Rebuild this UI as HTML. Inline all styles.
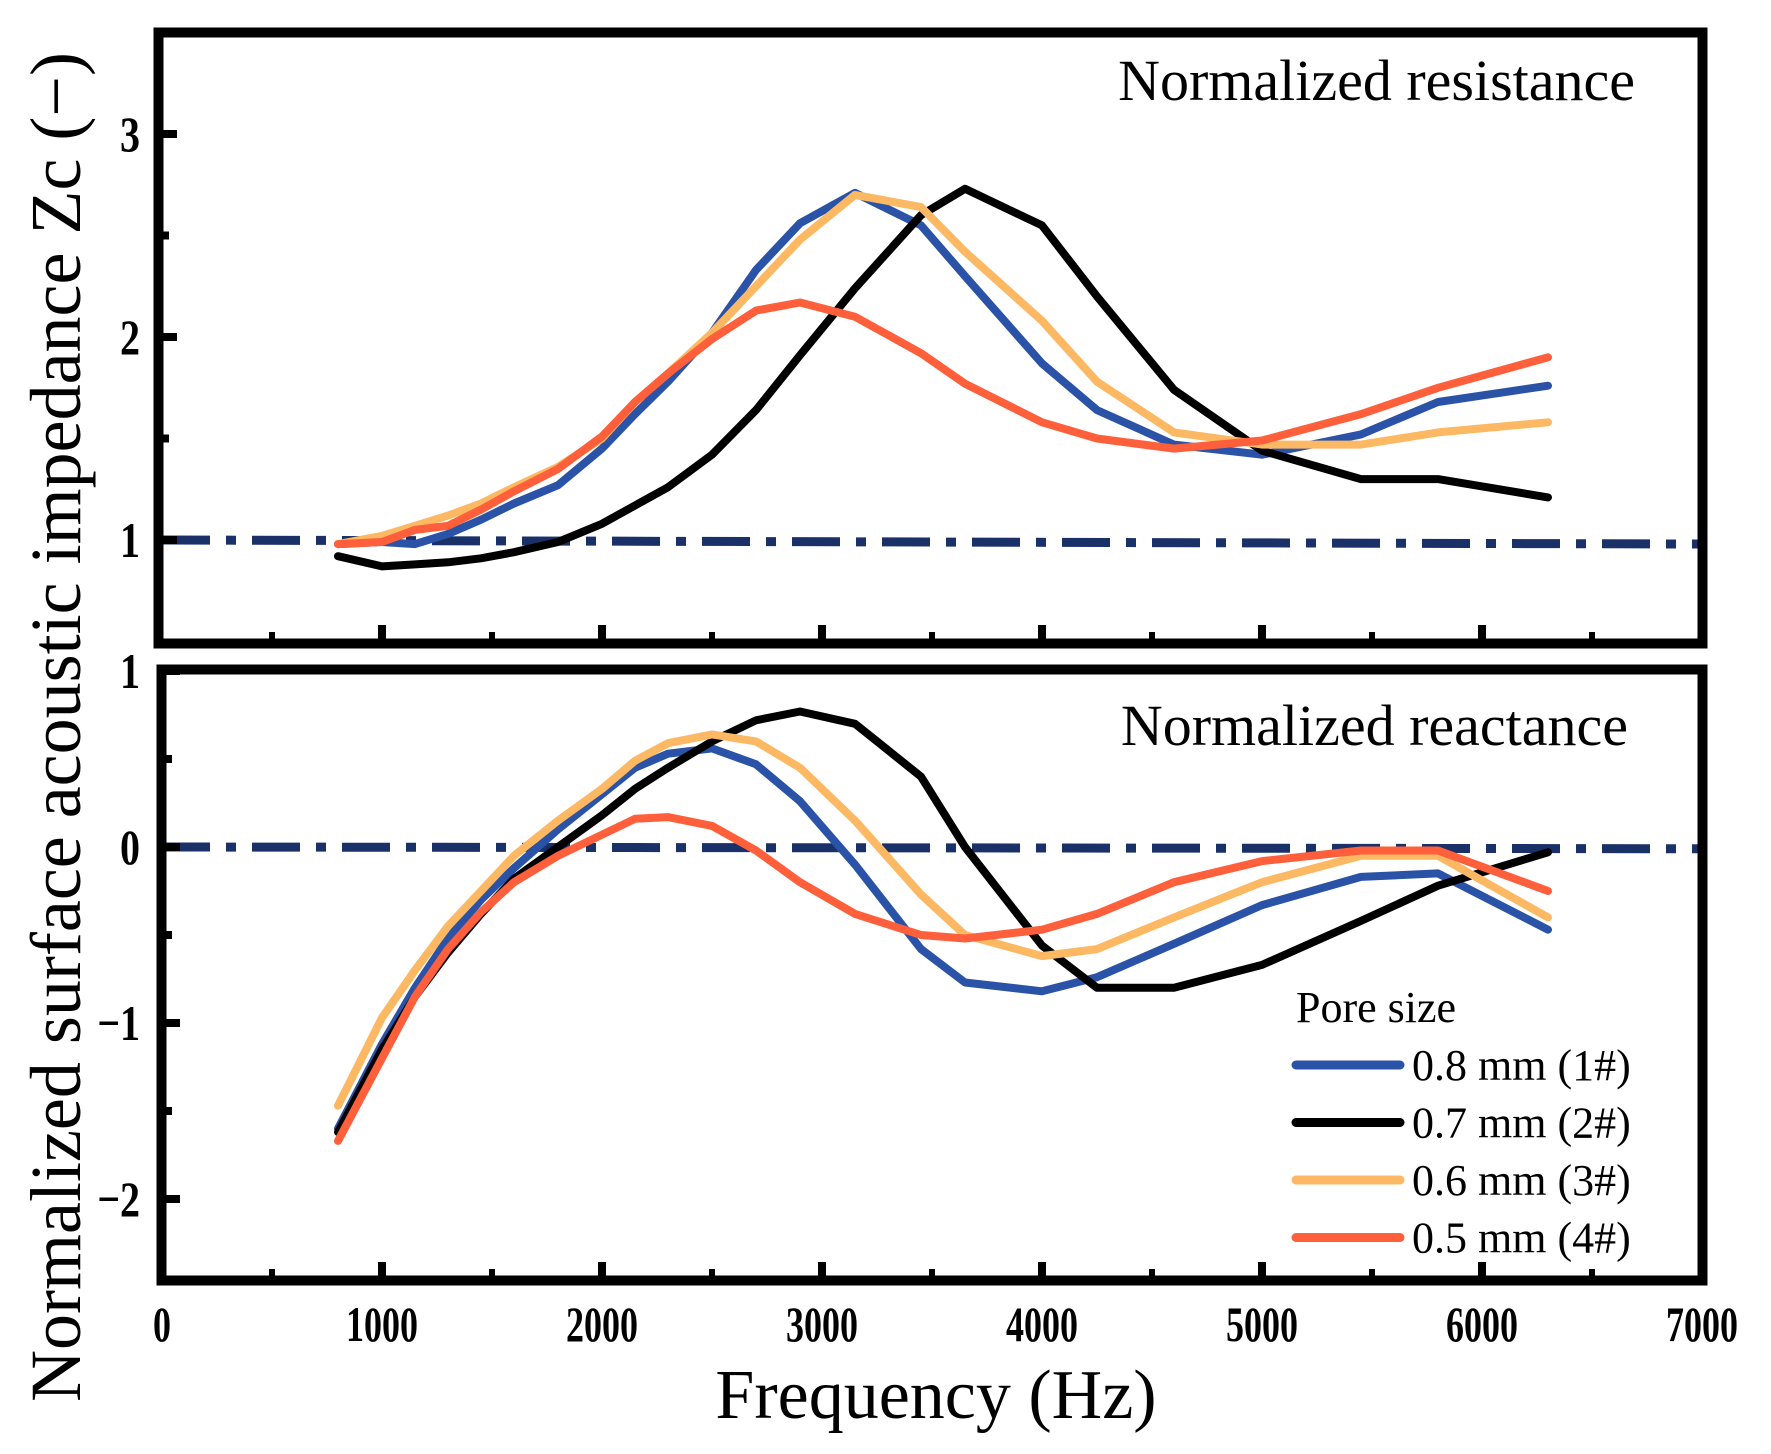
<!DOCTYPE html>
<html><head><meta charset="utf-8"><style>
html,body{margin:0;padding:0;background:#fff}
svg{display:block}
text{font-family:"Liberation Serif",serif;fill:#000}
</style></head><body>
<svg id="chart" width="1771" height="1454" viewBox="0 0 1771 1454" xmlns="http://www.w3.org/2000/svg">
<g id="layer"></g>
</svg>
<script>
const freqs=[800,1000,1150,1300,1450,1600,1800,2000,2150,2300,2500,2700,2900,3150,3450,3650,4000,4250,4600,5000,5450,5800,6300];
const resBlue=[0.98,0.99,0.98,1.03,1.1,1.18,1.27,1.45,1.62,1.78,2.02,2.33,2.56,2.71,2.55,2.3,1.87,1.64,1.47,1.42,1.52,1.68,1.76];
const resBlack=[0.92,0.87,0.88,0.89,0.91,0.94,0.99,1.08,1.17,1.26,1.42,1.64,1.91,2.24,2.6,2.73,2.55,2.2,1.74,1.44,1.3,1.3,1.21];
const resOrange=[0.98,1.02,1.07,1.12,1.18,1.26,1.36,1.5,1.68,1.82,2.02,2.25,2.48,2.7,2.64,2.42,2.08,1.78,1.53,1.47,1.47,1.53,1.58];
const resRed=[0.98,0.99,1.05,1.07,1.15,1.24,1.35,1.51,1.68,1.82,1.99,2.13,2.17,2.1,1.92,1.77,1.58,1.5,1.45,1.49,1.62,1.75,1.9];
const reaBlue=[-1.6,-1.12,-0.8,-0.52,-0.3,-0.12,0.1,0.3,0.45,0.53,0.56,0.47,0.26,-0.1,-0.58,-0.77,-0.82,-0.74,-0.55,-0.33,-0.17,-0.15,-0.47];
const reaBlack=[-1.62,-1.15,-0.85,-0.6,-0.38,-0.18,0.0,0.18,0.33,0.45,0.6,0.72,0.77,0.7,0.4,0.0,-0.56,-0.8,-0.8,-0.67,-0.42,-0.22,-0.03];
const reaOrange=[-1.47,-0.97,-0.7,-0.45,-0.25,-0.05,0.15,0.33,0.49,0.59,0.64,0.6,0.45,0.15,-0.27,-0.5,-0.62,-0.58,-0.4,-0.2,-0.05,-0.05,-0.4];
const reaRed=[-1.67,-1.2,-0.85,-0.58,-0.37,-0.2,-0.05,0.07,0.16,0.17,0.12,-0.02,-0.2,-0.38,-0.5,-0.52,-0.47,-0.38,-0.2,-0.08,-0.02,-0.02,-0.25];
const xTicks=[0,1000,2000,3000,4000,5000,6000,7000];
const topTicks=[1,2,3];
const botTicks=[1,0,-1,-2];
const seriesNames=["0.8 mm (1#)","0.7 mm (2#)","0.6 mm (3#)","0.5 mm (4#)"];
const colors=["#2a52a6","#000000","#fdb863","#ff5f3a"];

const NS="http://www.w3.org/2000/svg";
const g=document.getElementById('layer');
function el(t,a,txt){const e=document.createElementNS(NS,t);for(const k in a)e.setAttribute(k,a[k]);if(txt!==undefined)e.textContent=txt;g.appendChild(e);return e;}
const X=f=>162+f*(1540/7000);
const YT=v=>540-(v-1)*203;
const YB=v=>847-v*176;

let r1=el('line',{x1:162,y1:YT(1.0),x2:1702,y2:YT(0.98),stroke:'#1a3068','stroke-width':9,'stroke-dasharray':'48 16 10 16'});


let r2=el('line',{x1:162,y1:YB(0),x2:1702,y2:YB(-0.01),stroke:'#1a3068','stroke-width':9,'stroke-dasharray':'48 16 10 16'});



function series(vals,Y,c,name){
  const pts=freqs.map((f,i)=>X(f).toFixed(1)+','+Y(vals[i]).toFixed(1)).join(' ');
  const p=el('polyline',{points:pts,fill:'none',stroke:c,'stroke-width':8,'stroke-linejoin':'round','stroke-linecap':'round'});
  
  
}
[resBlue,resBlack,resOrange,resRed].forEach((v,i)=>series(v,YT,colors[i],'resistance-line-'+(i+1)));
[reaBlue,reaBlack,reaOrange,reaRed].forEach((v,i)=>series(v,YB,colors[i],'reactance-line-'+(i+1)));

let f1=el('rect',{x:158.5,y:32.5,width:1544,height:611,fill:'none',stroke:'#000','stroke-width':10});


let f2=el('rect',{x:161.5,y:669.5,width:1541,height:611,fill:'none',stroke:'#000','stroke-width':10});



for(let f=500;f<7000;f+=500){
  const major=f%1000===0;const len=major?14:7;
  let t=el('line',{x1:X(f),y1:639,x2:X(f),y2:639-len,stroke:'#000','stroke-width':major?8:6});
  
  
  let t2=el('line',{x1:X(f),y1:1276,x2:X(f),y2:1276-len,stroke:'#000','stroke-width':major?8:6});
  
  
}
xTicks.forEach(f=>{
  let t=el('text',{x:X(f),y:1341,'font-size':50,'font-weight':'bold','text-anchor':'middle',transform:`translate(${X(f)},0) scale(0.72,1) translate(${-X(f)},0)`},String(f));
  
  
});
[1,1.5,2,2.5,3].forEach(v=>{
  const major=Number.isInteger(v);
  let t=el('line',{x1:163,y1:YT(v),x2:163+(major?14:6),y2:YT(v),stroke:'#000','stroke-width':8});
  
  
});
topTicks.forEach(v=>{
  let t=el('text',{x:140,y:YT(v)+17,'font-size':50,'font-weight':'bold','text-anchor':'end',transform:`translate(140,0) scale(0.8,1) translate(-140,0)`},String(v));
  
  
});
[1,0.5,0,-0.5,-1,-1.5,-2].forEach(v=>{
  const major=Number.isInteger(v);
  let t=el('line',{x1:166,y1:YB(v),x2:166+(major?14:6),y2:YB(v),stroke:'#000','stroke-width':8});
  
  
});
botTicks.forEach(v=>{
  let t=el('text',{x:140,y:YB(v)+17,'font-size':50,'font-weight':'bold','text-anchor':'end',transform:`translate(140,0) scale(0.8,1) translate(-140,0)`},v<0?'\u2212'+Math.abs(v):String(v));
  
  
});

let pt1=el('text',{x:1635,y:100,'font-size':58,'text-anchor':'end'},'Normalized resistance');


let pt2=el('text',{x:1628,y:745,'font-size':58,'text-anchor':'end'},'Normalized reactance');


let xt=el('text',{x:936,y:1418,'font-size':70,'text-anchor':'middle'},'Frequency (Hz)');


let yt=el('text',{x:0,y:0,'font-size':72,'text-anchor':'middle',transform:'translate(80,727) rotate(-90)'},'Normalized surface acoustic impedance Zc (\u2212)');



let lt=el('text',{x:1296,y:1022,'font-size':44},'Pore size');


seriesNames.forEach((n,i)=>{
  const y=1065+i*57.5;
  let l=el('line',{x1:1296,y1:y,x2:1400,y2:y,stroke:colors[i],'stroke-width':9,'stroke-linecap':'round'});
  
  
  let t=el('text',{x:1412,y:y+15,'font-size':44},n);
  
  
});
</script>
</body></html>
